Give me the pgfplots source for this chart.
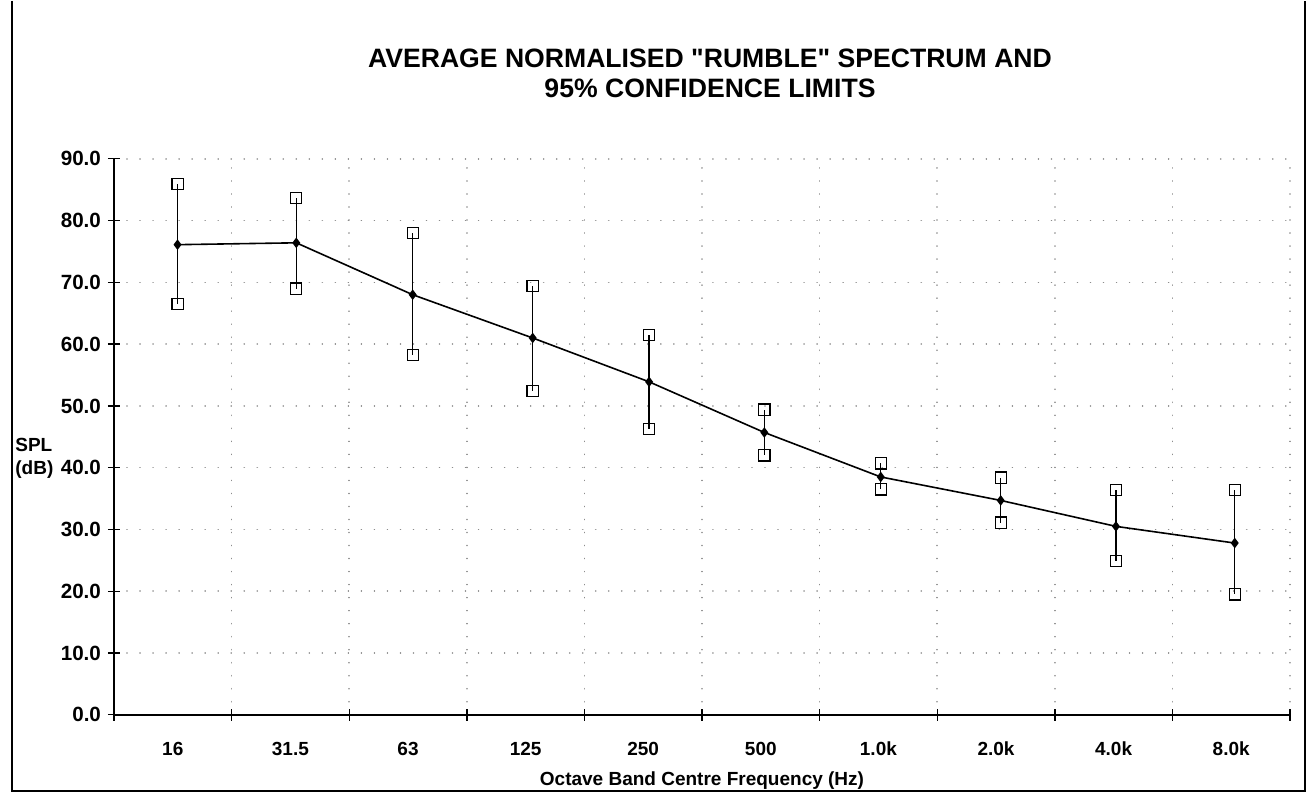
\documentclass[border=0pt]{standalone}
\usepackage{fontspec}
\setmainfont{Liberation Sans}
\usepackage{pgfplots}
\pgfplotsset{compat=1.18}
\begin{document}
\begin{tikzpicture}
\begin{axis}[name=ax, scale only axis, width=588pt, height=278pt,
  xmin=0, xmax=10, ymin=0, ymax=90,
  axis lines*=left, axis line style={line width=0.9pt},
  xtick={0.5,1.5,...,9.5},
  xticklabels={16,31.5,63,125,250,500,1.0k,2.0k,4.0k,8.0k},
  minor xtick={0,...,10},
  xticklabel style={yshift=-7pt},
  major x tick style={draw=none},
  ytick={0,10,...,90},
  ymajorgrids, xminorgrids,
  major grid style={gray!90, line width=0.8pt, dash pattern=on 0.01pt off 6.5pt, line cap=round},
  minor grid style={gray!90, line width=0.8pt, dash pattern=on 0.01pt off 6.5pt, line cap=round},
  tick align=center, major tick length=6pt, minor tick length=6pt,
  tick style={black, line width=0.7pt},
  ticklabel style={font=\bfseries\fontsize{9.5}{11}\selectfont},
  yticklabel style={font=\bfseries\fontsize{10.3}{12}\selectfont, /pgf/number format/.cd, fixed, fixed zerofill, precision=1, assume math mode=true},
  clip=false]
\addplot[black, line width=0.8pt, mark=diamond*, mark size=2pt,
  error bars/.cd, y dir=both, y explicit, error mark=square,
  error mark options={black, fill=white, mark size=2.8pt, line width=0.6pt},
  error bar style={line width=0.7pt}]
coordinates {
  (0.54,76.1) += (0,9.8) -= (0,9.6)
  (1.55,76.4) += (0,7.3) -= (0,7.4)
  (2.54,68.0) += (0,10.0) -= (0,9.8)
  (3.56,61.0) += (0,8.4) -= (0,8.6)
  (4.55,53.9) += (0,7.6) -= (0,7.6)
  (5.53,45.7) += (0,3.7) -= (0,3.7)
  (6.52,38.5) += (0,2.2) -= (0,2.0)
  (7.54,34.7) += (0,3.7) -= (0,3.6)
  (8.52,30.5) += (0,5.9) -= (0,5.6)
  (9.53,27.8) += (0,8.6) -= (0,8.3)
};
\end{axis}
\node[align=center, font=\bfseries\fontsize{13.3}{15}\selectfont] at ([shift={(4pt,42.5pt)}]ax.north)
  {AVERAGE NORMALISED \textquotedbl RUMBLE\textquotedbl\ SPECTRUM AND\\95\% CONFIDENCE LIMITS};
\node[align=left, anchor=west, inner sep=0.5pt, font=\bfseries\fontsize{9.5}{11.5}\selectfont] at ([shift={(-50pt,128pt)}]ax.south west)
  {SPL\\(dB)};
\node[font=\bfseries\fontsize{9.5}{11}\selectfont] at ([shift={(0pt,-33pt)}]ax.south)
  {Octave Band Centre Frequency (Hz)};
\draw[line width=0.8pt] ([shift={(-51pt,79pt)}]ax.south west |- ax.north west) -- ([shift={(-51pt,-38pt)}]ax.south west) -- ([shift={(7.5pt,-38pt)}]ax.south east) -- ([shift={(7.5pt,79pt)}]ax.north east);
\useasboundingbox ([shift={(-57pt,-40.5pt)}]ax.south west) rectangle ([shift={(10pt,79pt)}]ax.north east);
\end{tikzpicture}
\end{document}
